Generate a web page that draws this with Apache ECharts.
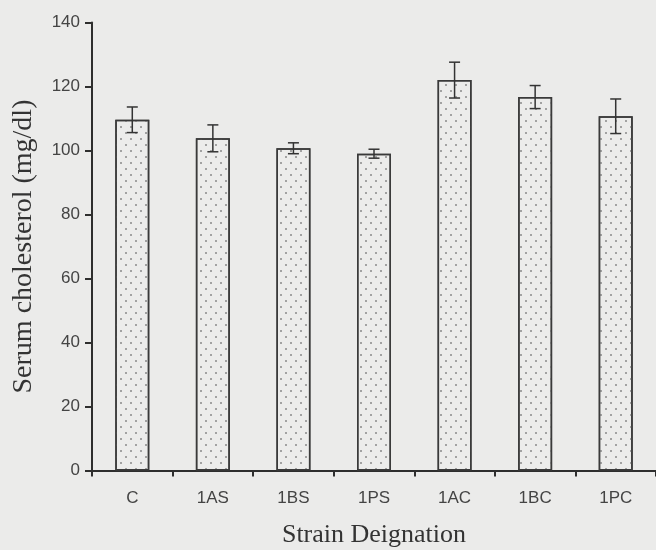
<!DOCTYPE html>
<html>
<head>
<meta charset="utf-8">
<script src="https://cdn.jsdelivr.net/npm/echarts@6/dist/echarts.min.js"></script>
<style>
  html, body { margin: 0; padding: 0; background: #ebebea; }
  #chart { width: 656px; height: 550px; }
</style>
</head>
<body>
<div id="chart"></div>
<script>
const categories = ['C', '1AS', '1BS', '1PS', '1AC', '1BC', '1PC'];
const means = [109.6, 103.8, 100.7, 99.0, 122.0, 116.7, 110.7];
const errors = [4.0, 4.2, 1.7, 1.4, 5.6, 3.6, 5.4];
const yMin = 0, yMax = 140, yStep = 20;
const xTitle = 'Strain Deignation';
const yTitle = 'Serum cholesterol (mg/dl)';

const errData = categories.map((c, i) => [i, means[i] - errors[i], means[i] + errors[i]]);

const chart = echarts.init(document.getElementById('chart'), null, { renderer: 'canvas' });
const ink = '#2e2e2e';
chart.setOption({
  backgroundColor: '#ebebea',
  animation: false,
  grid: { left: 92, right: 0, top: 22.5, bottom: 79.5, outerBoundsMode: 'none', containLabel: false },
  xAxis: {
    type: 'category',
    data: categories,
    boundaryGap: true,
    name: xTitle,
    nameLocation: 'middle',
    nameGap: 52,
    nameTextStyle: { fontFamily: 'Liberation Serif', fontSize: 26, color: '#333' },
    axisLine: { lineStyle: { color: ink, width: 2 } },
    axisTick: { show: true, length: 6, lineStyle: { color: ink, width: 2 } },
    axisLabel: { margin: 19, fontFamily: 'Liberation Sans', fontSize: 17, color: '#444' },
    splitLine: { show: false }
  },
  yAxis: {
    type: 'value',
    min: yMin, max: yMax, interval: yStep,
    name: yTitle,
    nameLocation: 'middle',
    nameRotate: 90,
    nameGap: 54,
    nameTextStyle: { fontFamily: 'Liberation Serif', fontSize: 28, color: '#333' },
    axisLine: { show: true, lineStyle: { color: ink, width: 2 } },
    axisTick: { show: true, length: 7, lineStyle: { color: ink, width: 2 } },
    axisLabel: { margin: 12, fontFamily: 'Liberation Sans', fontSize: 17, color: '#444' },
    splitLine: { show: false }
  },
  series: [
    {
      type: 'bar',
      data: means,
      barWidth: 34,
      itemStyle: {
        color: '#ececeb',
        borderColor: '#3a3a3a',
        borderWidth: 1.5,
        decal: {
          symbol: 'circle',
          symbolSize: 1,
          color: '#8a8a8a',
          dashArrayX: [[2, 8], [0, 5, 2, 3]],
          dashArrayY: [2, 4],
          rotation: 0
        }
      },
      z: 2
    },
    {
      type: 'custom',
      data: errData,
      encode: { x: 0, y: [1, 2] },
      z: 3,
      renderItem: function (params, api) {
        const x = api.value(0);
        const lo = api.coord([x, api.value(1)]);
        const hi = api.coord([x, api.value(2)]);
        const half = 5.5;
        const style = { stroke: '#333', lineWidth: 1.5 };
        return {
          type: 'group',
          children: [
            { type: 'line', shape: { x1: hi[0], y1: hi[1], x2: lo[0], y2: lo[1] }, style: style },
            { type: 'line', shape: { x1: hi[0] - half, y1: hi[1], x2: hi[0] + half, y2: hi[1] }, style: style },
            { type: 'line', shape: { x1: lo[0] - half, y1: lo[1], x2: lo[0] + half, y2: lo[1] }, style: style }
          ]
        };
      }
    }
  ]
});
</script>
</body>
</html>
